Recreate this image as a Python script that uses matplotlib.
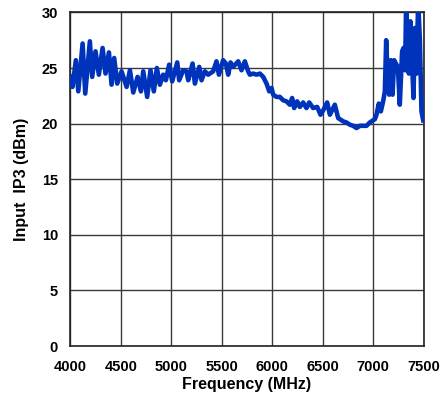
import numpy as np
import matplotlib.pyplot as plt

# values
freq_mhz = [
    4002, 4021, 4054, 4078, 4121, 4147, 4193, 4216, 4249, 4282,
    4319, 4348, 4382, 4408, 4434, 4464, 4507, 4557, 4590, 4623,
    4666, 4699, 4722, 4761, 4794, 4827, 4857, 4887, 4920, 4946,
    4979, 5009, 5059, 5078, 5118, 5151, 5168, 5211, 5234, 5277,
    5300, 5333, 5366, 5415, 5448, 5472, 5514, 5541, 5564, 5587,
    5614, 5663, 5696, 5729, 5762, 5779, 5812, 5845, 5878, 5911,
    5944, 5971, 5994, 6010, 6043, 6076, 6109, 6142, 6175, 6198,
    6218, 6248, 6274, 6307, 6340, 6367, 6406, 6446, 6479, 6506,
    6545, 6572, 6621, 6654, 6704, 6737, 6770, 6803, 6836, 6869,
    6902, 6935, 6968, 7001, 7018, 7034, 7057, 7077, 7100, 7117,
    7130, 7146, 7160, 7176, 7193, 7209, 7226, 7246, 7265, 7288,
    7302, 7318, 7328, 7342, 7355, 7371, 7388, 7401, 7414, 7431,
    7447, 7464, 7480, 7497,
]
iip3_dbm = [
    24.2, 23.3, 25.7, 22.9, 27.2, 22.7, 27.4, 24.2, 26.5, 24.4,
    26.8, 24.5, 26.4, 23.5, 25.9, 23.6, 24.7, 23.3, 24.8, 22.8,
    24.2, 22.9, 24.7, 22.4, 24.8, 22.9, 25.0, 23.5, 24.4, 23.9,
    25.3, 23.8, 25.5, 23.9, 24.8, 24.7, 23.9, 25.4, 23.6, 25.1,
    23.9, 24.7, 24.4, 24.7, 25.6, 24.4, 25.7, 25.4, 24.4, 25.5,
    25.1, 25.6, 24.8, 25.6, 24.7, 24.4, 24.5, 24.4, 24.5, 24.2,
    23.6, 22.9, 23.2, 22.6, 22.4, 22.4, 22.1, 22.0, 21.7, 22.3,
    21.4, 22.0, 21.5, 21.9, 21.4, 21.9, 21.4, 21.5, 20.8, 21.2,
    21.9, 20.8, 21.7, 20.5, 20.2, 20.1, 19.9, 19.8, 19.6, 19.8,
    19.8, 19.8, 20.1, 20.3, 20.4, 20.8, 21.8, 21.1, 22.0, 22.9,
    27.5, 24.1, 22.6, 25.7, 22.6, 25.7, 25.4, 25.1, 21.7, 26.5,
    26.8, 24.8, 31.0, 26.5, 24.5, 29.2, 25.2, 22.3, 28.6, 24.5,
    31.0, 27.5, 21.1, 20.3,
]

x_ticks = [4000, 4500, 5000, 5500, 6000, 6500, 7000, 7500]
y_ticks = [0, 5, 10, 15, 20, 25, 30]

plt.rcParams["font.family"] = ["Liberation Sans", "DejaVu Sans"]
plt.rcParams["font.weight"] = "bold"

fig = plt.figure(figsize=(4.4, 4.0), dpi=100)
ax = fig.add_axes([0.160, 0.135, 0.8025, 0.834])

ax.plot(freq_mhz, iip3_dbm, color="#0033bb", linewidth=3.3,
        solid_joinstyle="round", zorder=3)

ax.set_xlim(4000, 7500)
ax.set_ylim(0, 30)
ax.set_xticks(x_ticks)
ax.set_yticks(y_ticks)
ax.grid(True, color="#3a3a3a", linewidth=1.0, linestyle="-")
ax.set_axisbelow(True)

for s in ax.spines.values():
    s.set_color("#222222")
    s.set_linewidth(1.2)

ax.tick_params(axis="both", length=0, labelsize=10.5)
ax.tick_params(axis="x", pad=10)
ax.tick_params(axis="y", pad=9)
for lab in ax.get_xticklabels() + ax.get_yticklabels():
    lab.set_fontweight("bold")

ax.set_xlabel("Frequency (MHz)", fontsize=11.5, fontweight="bold", labelpad=2)
ax.set_ylabel("Input  IP3 (dBm)", fontsize=11.5, fontweight="bold", labelpad=9)

fig.savefig("out.png", dpi=100)
